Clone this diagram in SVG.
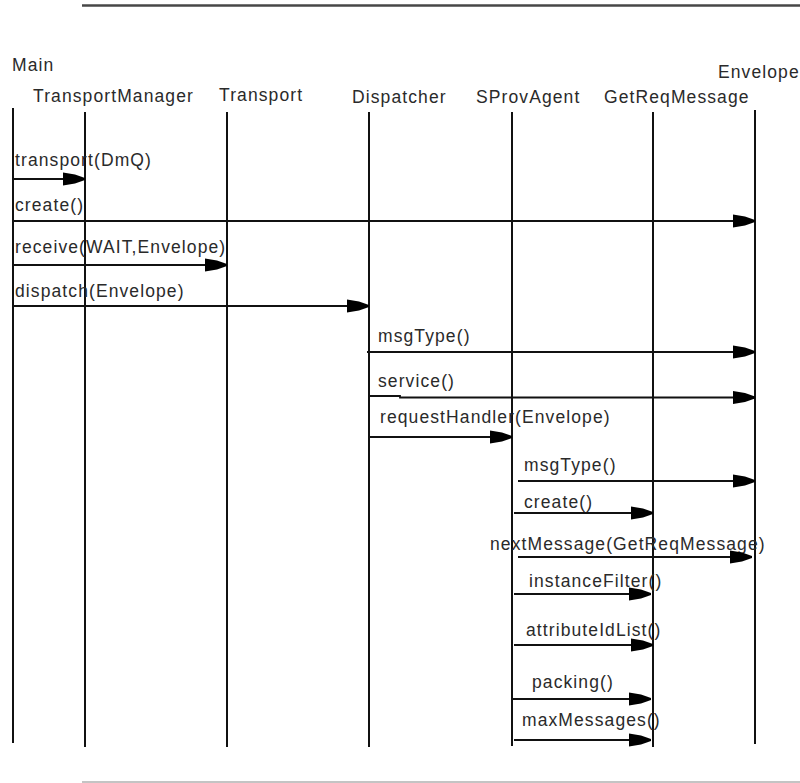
<svg xmlns="http://www.w3.org/2000/svg" width="800" height="783" viewBox="0 0 800 783">
  <style>
    text { font-family: "Liberation Sans", Arial, sans-serif; font-size: 17.5px; letter-spacing: 1.1px; fill: #2a2a2a; }
    .life { stroke: #111; stroke-width: 2; fill: none; }
    .msg { stroke: #111; stroke-width: 1.8; fill: none; marker-end: url(#head); }
    .rule-top { stroke: #474747; stroke-width: 2.6; }
    .rule-bottom { stroke: #b0b0b0; stroke-width: 1.6; }
  </style>
  <defs>
    <!-- heavy filled wedge arrowhead, fixed size regardless of stroke width -->
    <marker id="head" markerUnits="userSpaceOnUse" markerWidth="24" markerHeight="14" refX="22" refY="7" orient="auto">
      <path d="M0,0.5 L12,2.5 L22,6 L22,8 L12,11.5 L0,13.5 z" fill="#000"/>
    </marker>
  </defs>
  <rect width="800" height="783" fill="#fff"/>

  <!-- page rules -->
  <line class="rule-top" x1="82" y1="5.5" x2="800" y2="5.5"/>
  <line class="rule-bottom" x1="82" y1="782" x2="800" y2="782"/>

  <!-- objects and their lifelines -->
  <g id="main">
    <text x="12" y="71">Main</text>
    <line class="life" x1="13" y1="108" x2="13" y2="743"/>
  </g>
  <g id="transportManager">
    <text x="33" y="102">TransportManager</text>
    <line class="life" x1="85" y1="112" x2="85" y2="747"/>
  </g>
  <g id="transport">
    <text x="219" y="101">Transport</text>
    <line class="life" x1="227" y1="112" x2="227" y2="747"/>
  </g>
  <g id="dispatcher">
    <text x="352" y="103">Dispatcher</text>
    <line class="life" x1="369" y1="112" x2="369" y2="747"/>
  </g>
  <g id="sProvAgent">
    <text x="476" y="103">SProvAgent</text>
    <line class="life" x1="512" y1="112" x2="512" y2="746"/>
  </g>
  <g id="getReqMessage">
    <text x="604" y="103">GetReqMessage</text>
    <line class="life" x1="653" y1="112" x2="653" y2="747"/>
  </g>
  <g id="envelope">
    <text x="718" y="78">Envelope</text>
    <line class="life" x1="755" y1="110" x2="755" y2="744"/>
  </g>

  <!-- messages -->
  <g id="connectors">
    <text x="15" y="166">transport(DmQ)</text>
    <line class="msg" x1="13" y1="179" x2="85" y2="179"/>

    <text x="15" y="211">create()</text>
    <line class="msg" x1="13" y1="221" x2="755" y2="221"/>

    <text x="15" y="253">receive(WAIT,Envelope)</text>
    <line class="msg" x1="13" y1="265" x2="227" y2="265"/>

    <text x="15" y="297">dispatch(Envelope)</text>
    <line class="msg" x1="13" y1="306" x2="369" y2="306"/>

    <text x="378" y="342">msgType()</text>
    <line class="msg" x1="367" y1="352" x2="755" y2="352"/>

    <text x="378" y="387">service()</text>
    <polyline class="msg" points="369,396 400,396 400,397.5 755,397.5"/>

    <text x="380" y="423">requestHandler(Envelope)</text>
    <line class="msg" x1="369" y1="437" x2="512" y2="437"/>

    <text x="524" y="471">msgType()</text>
    <line class="msg" x1="518" y1="481" x2="755" y2="481"/>

    <text x="524" y="508">create()</text>
    <line class="msg" x1="514" y1="513" x2="653" y2="513"/>

    <text x="490" y="550">nextMessage(GetReqMessage)</text>
    <line class="msg" x1="518" y1="557" x2="752" y2="557"/>

    <text x="529" y="587">instanceFilter()</text>
    <line class="msg" x1="514" y1="594" x2="651" y2="594"/>

    <text x="526" y="636">attributeIdList()</text>
    <line class="msg" x1="514" y1="645" x2="653" y2="645"/>

    <text x="532" y="688">packing()</text>
    <line class="msg" x1="511" y1="699" x2="651" y2="699"/>

    <text x="522" y="726">maxMessages()</text>
    <line class="msg" x1="514" y1="740" x2="651" y2="740"/>
  </g>
</svg>
